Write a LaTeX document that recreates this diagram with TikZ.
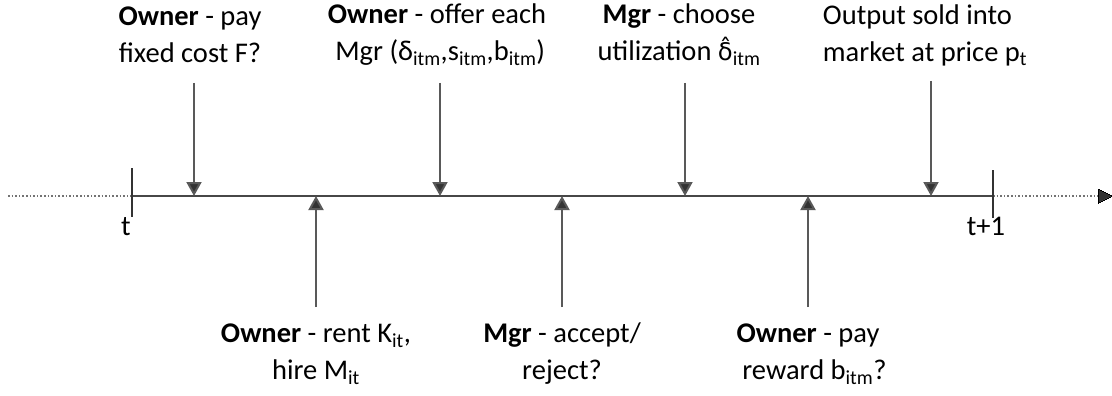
\documentclass[tikz,border=0pt]{standalone}
\usepackage{fontspec}
\setmainfont{Carlito}
\newfontfamily\djv[Scale=0.85]{DejaVu Sans}
\usetikzlibrary{arrows.meta}
\newcommand{\hatdelta}{{\djv δ̂}}
\begin{document}
\begin{tikzpicture}[x=1pt,y=1pt,
  lbl/.style={font=\fontsize{28.5}{37}\selectfont, align=center, inner sep=0pt, text=black},
  axis/.style={line width=2pt, draw=black!72},
  dots/.style={line width=1.6pt, draw=black!55, dotted},
  tick/.style={line width=1.6pt, draw=black!80},
  arr/.style={line width=2pt, draw=black!65, -{Triangle[width=15pt,length=14pt,fill=black!80]}}]
\useasboundingbox (0,0) rectangle (1112,-396);
% axis
\coordinate (L) at (8,-196);
\coordinate (T0) at (132,-196);
\coordinate (T1) at (993,-196);
\coordinate (R) at (1112,-196);
\draw[dots] (L) -- (T0);
\draw[axis] (T0) -- (T1);
\draw[dots] (T1) -- ([xshift=-12pt]R);
\draw[line width=0pt, fill=black!80] (R) -- ++(-14,7) -- ++(0,-14) -- cycle;
\draw[tick] (132,-168) -- (132,-217);
\draw[tick] (993,-170) -- (993,-218);
\node[lbl] (lt) at (126,-227) {t};
\node[lbl] (lt1) at (986,-226) {t+1};
% top labels
\node[lbl] (a) at (190,-35) {\textbf{Owner} - pay\\fixed cost F?};
\node[lbl] (b) at (437,-35) {\textbf{Owner} - offer each\\\ Mgr (δ\textsubscript{itm},s\textsubscript{itm},b\textsubscript{itm})};
\node[lbl] (c) at (679,-35) {\textbf{Mgr} - choose\\utilization \hatdelta\textsubscript{itm}};
\node[lbl, align=left] (d) at (925,-35) {Output sold into\\market at price p\textsubscript{t}};
% bottom labels
\node[lbl] (e) at (316,-354) {\textbf{Owner} - rent K\textsubscript{it},\\hire M\textsubscript{it}};
\node[lbl] (f) at (562,-354) {\textbf{Mgr} - accept/\\reject?};
\node[lbl] (g) at (808,-354) {\textbf{Owner} - pay\\\ \ reward b\textsubscript{itm}?};
% arrow points
\coordinate (a1) at (194,-83);  \coordinate (a2) at (194,-196);
\coordinate (b1) at (440,-83);  \coordinate (b2) at (440,-196);
\coordinate (c1) at (685,-83);  \coordinate (c2) at (685,-196);
\coordinate (d1) at (931,-81);  \coordinate (d2) at (931,-196);
\coordinate (e1) at (316,-307); \coordinate (e2) at (316,-196);
\coordinate (f1) at (562,-307); \coordinate (f2) at (562,-196);
\coordinate (g1) at (808,-307); \coordinate (g2) at (808,-196);
\foreach \p in {a,b,c,d,e,f,g} \draw[arr] (\p1) -- (\p2);
\end{tikzpicture}
\end{document}
